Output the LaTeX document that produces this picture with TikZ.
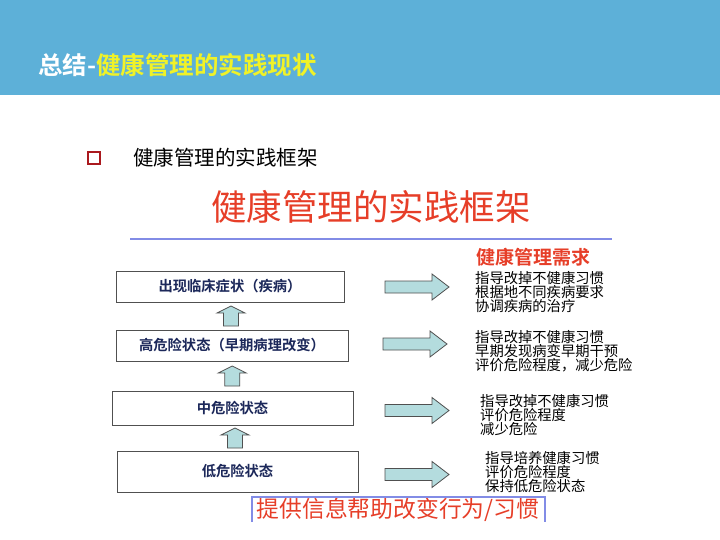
\documentclass[tikz,border=0pt]{standalone}
\usepackage{fontspec}
\setmainfont{Noto Sans CJK SC}[BoldFont={Noto Sans CJK SC Bold}]
\usetikzlibrary{positioning}
\usetikzlibrary{calc}

\definecolor{band}{RGB}{93,176,216}
\definecolor{headyellow}{RGB}{240,242,40}
\definecolor{titlered}{RGB}{230,62,40}
\definecolor{navy}{RGB}{28,40,90}
\definecolor{boxgray}{RGB}{80,80,80}
\definecolor{arrowcyan}{RGB}{180,220,222}
\definecolor{linelilac}{RGB}{130,140,230}
\definecolor{bulletred}{RGB}{170,25,30}

\begin{document}
\begin{tikzpicture}[x=1pt, y=-1pt,
        state/.style={draw=boxgray, fill=white, line width=0.9pt, text=navy, inner sep=0pt,
            font=\bfseries\fontsize{14.3}{15}\selectfont},
        need/.style={anchor=west, align=left, inner sep=0pt, font=\fontsize{14.3}{14}\selectfont},
        blockarrow/.style={draw=boxgray, fill=arrowcyan, line width=0.8pt, line join=miter},
        uparr/.pic={\filldraw[blockarrow] (0,-10) -- (14,-3) -- (7.5,-3) -- (7.5,10) -- (-7.5,10) -- (-7.5,-3) -- (-14,-3) -- cycle;},
        rarr/.pic={\filldraw[blockarrow] (0,-6) -- (47,-6) -- (47,-13) -- (64,0) -- (47,13) -- (47,6) -- (0,6) -- cycle;}]
        \useasboundingbox (0,0) rectangle (720,540);
        % header band
        \fill[band] (0,0) rectangle (720,95);
        \node[anchor=west, inner sep=0pt, font=\bfseries\fontsize{24.5}{26}\selectfont] (head) at (38,65)
            {\textcolor{white}{总结-}\textcolor{headyellow}{健康管理的实践现状}};
        
        % bullet
        \draw[bulletred, line width=2.4pt] (88,152) rectangle (100,164);
        \node[anchor=west, inner sep=0pt, font=\fontsize{20.5}{22}\selectfont] (item) at (133,158) {健康管理的实践框架};
        
        \node[text=titlered, inner sep=0pt, font=\fontsize{35.5}{38}\selectfont] (title) at (371,207) {健康管理的实践框架};
        \draw[linelilac, line width=1.6pt] (130,239) -- (612,239);
        
        % states
        \node[state, minimum width=228pt, minimum height=31pt] (s_1) at (230,286.5) {出现临床症状（疾病）};
        \node[state, minimum width=232pt, minimum height=31pt] (s_2) at (232,345.5) {高危险状态（早期病理改变）};
        \node[state, minimum width=241pt, minimum height=34pt] (s_3) at (232.5,408) {中危险状态};
        \node[state, minimum width=241pt, minimum height=41pt] (s_4) at (237.5,471.5) {低危险状态};
        
        \pic at ($(s_1.south)!0.5!(s_2.north)$) {uparr};
        \pic at ($(s_2.south)!0.5!(s_3.north)$) {uparr};
        \pic at ($(s_3.south)!0.5!(s_4.north)$) {uparr};
        
        % needs
        \node[anchor=west, inner sep=0pt, text=titlered, font=\bfseries\fontsize{19}{21}\selectfont] (needs) at (476,257) {健康管理需求};
        \node[need] (n_1) at (475,292) {指导改掉不健康习惯\\根据地不同疾病要求\\协调疾病的治疗};
        \node[need] (n_2) at (475,351) {指导改掉不健康习惯\\早期发现病变早期干预\\评价危险程度，减少危险};
        \node[need] (n_3) at (480,415.5) {指导改掉不健康习惯\\评价危险程度\\减少危险};
        \node[need] (n_4) at (485,472) {指导培养健康习惯\\评价危险程度\\保持低危险状态};
        
        \pic at (385,287) {rarr};
        \pic at (383,344) {rarr};
        \pic at (385,410.5) {rarr};
        \pic at (385,474.5) {rarr};
        
        % bottom
        \node[text=titlered, inner sep=0pt, font=\fontsize{22.8}{25}\selectfont] (help) at (398,510) {提供信息帮助改变行为/习惯};
        \draw[linelilac, line width=1.2pt] (252,522) |- (545,497) -- (545,522);
        
    \end{tikzpicture}
\end{document}
